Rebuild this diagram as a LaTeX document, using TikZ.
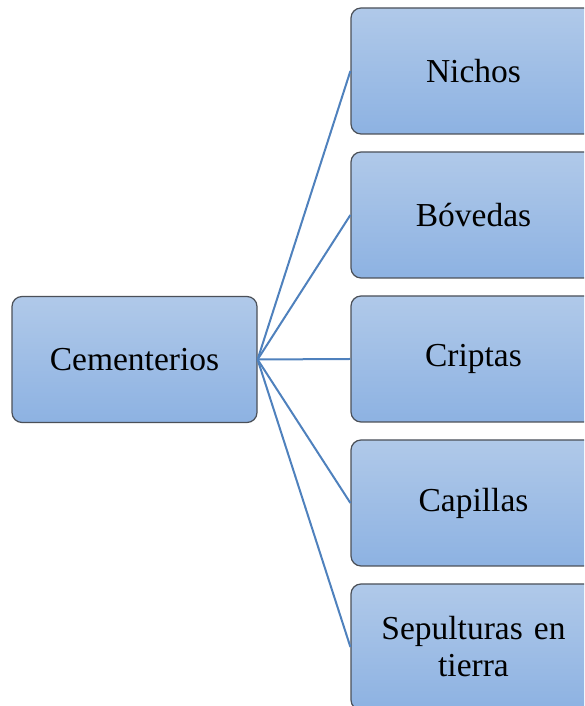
\documentclass[tikz,border=0pt]{standalone}
\usepackage{fontspec}
\setmainfont{Liberation Serif}
\usetikzlibrary{positioning}
\definecolor{boxtop}{RGB}{176,201,233}
\definecolor{boxbottom}{RGB}{141,178,226}
\definecolor{boxline}{RGB}{75,80,88}
\definecolor{linkblue}{RGB}{79,129,189}
\tikzset{
  block/.style={rectangle, draw=boxline, line width=1.2pt, top color=boxtop,
    bottom color=boxbottom, rounded corners=10pt, minimum width=245pt,
    minimum height=126pt, text width=200pt, align=center,
    font=\fontsize{33.5}{37}\selectfont},
  link/.style={draw=linkblue, line width=2pt}
}
\begin{document}
\begin{tikzpicture}[x=1pt, y=1pt, node distance=144pt]
        \useasboundingbox (0,0) rectangle (584,706);
        \clip (0,0) rectangle (584,706);
        % Place nodes
        \node [block] (cementerios) at (134.5,346.5) {Cementerios};
        \node [block] (nichos) at (473.5,635) {Nichos};
        \node [block, below of=nichos] (bovedas) {Bóvedas};
        \node [block, below of=bovedas] (criptas) {Criptas};
        \node [block, below of=criptas] (capillas) {Capillas};
        \node [block, below of=capillas] (sepulturas) {Sepulturas en\\tierra};
        % Draw edges
        \foreach \target in {nichos, bovedas, criptas, capillas, sepulturas}
            \path [link] (cementerios.east) -- (\target.west);
    \end{tikzpicture}
\end{document}
